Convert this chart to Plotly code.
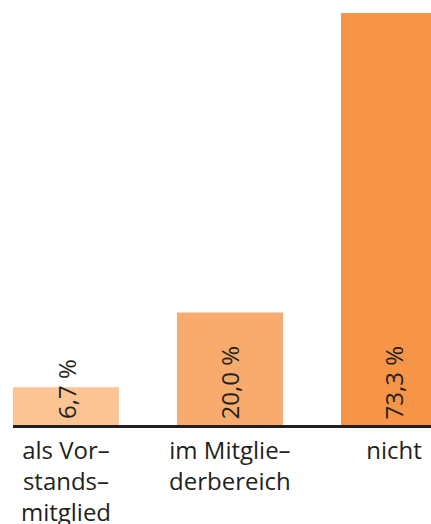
import plotly.graph_objects as go

categories = ["als Vor–<br>stands–<br>mitglied", "im Mitglie–<br>derbereich", "nicht"]
values = [6.7, 20.0, 73.3]
value_labels = ["6,7 %", "20,0 %", "73,3 %"]
colors = ["#FCC493", "#F8AB6C", "#F69447"]

FONT = "Open Sans"
TEXT_COLOR = "#231F20"

fig = go.Figure()
fig.add_trace(go.Bar(
    x=list(range(len(categories))),
    y=values,
    marker=dict(color=colors, line=dict(width=0)),
    width=0.646,
    hoverinfo="skip",
))

for i, (v, lab) in enumerate(zip(values, value_labels)):
    fig.add_annotation(
        x=i, y=0, xref="x", yref="y",
        text=lab, textangle=-90, showarrow=False,
        xanchor="center", yanchor="bottom", yshift=4,
        font=dict(family=FONT, size=24, color=TEXT_COLOR),
    )

fig.update_layout(
    width=431, height=524,
    margin=dict(l=13, r=0, t=0, b=99),
    paper_bgcolor="white", plot_bgcolor="white",
    showlegend=False,
    font=dict(family=FONT, size=24, color=TEXT_COLOR),
    xaxis=dict(
        range=[-0.323, 2.226],
        tickmode="array",
        tickvals=list(range(len(categories))),
        ticktext=categories,
        ticklabelstandoff=2,
        automargin=False,
        showline=True, linecolor=TEXT_COLOR, linewidth=3,
        showgrid=False, zeroline=False, ticks="",
        tickfont=dict(family=FONT, size=24, color=TEXT_COLOR),
        fixedrange=True,
    ),
    yaxis=dict(
        range=[0, 75.6], visible=False, showgrid=False, zeroline=False,
        automargin=False, fixedrange=True,
    ),
)

fig.write_html("out.html", config={"displayModeBar": False})
